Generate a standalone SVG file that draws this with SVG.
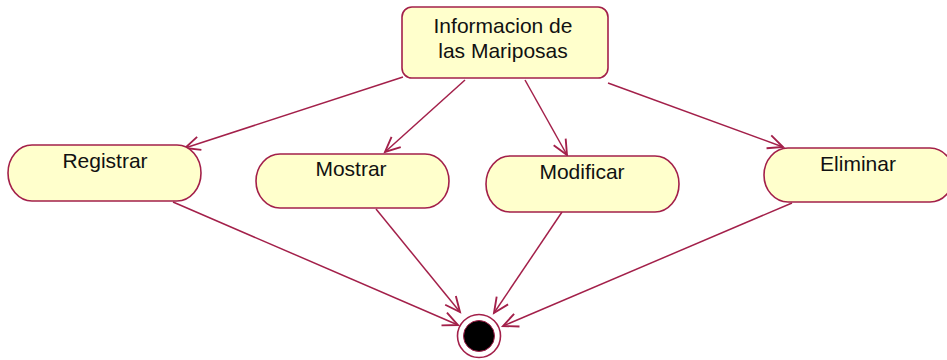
<svg xmlns="http://www.w3.org/2000/svg" width="947" height="360" viewBox="0 0 947 360">
<style>
.node{fill:#FFFFCC;stroke:#A3204A;stroke-width:1.6}
.lbl{font-family:"Liberation Sans",Arial,sans-serif;font-size:21px;fill:#111;text-anchor:middle}
.edge{fill:none;stroke:#A3204A;stroke-width:1.5}
</style>
<defs>
<marker id="arr" markerUnits="userSpaceOnUse" markerWidth="20" markerHeight="20" viewBox="-14 -8 16 16" refX="0" refY="0" orient="auto">
<path d="M-12,-5.5 L0,0 L-12,5.5" fill="none" stroke="#A3204A" stroke-width="1.5"/>
</marker>
</defs>
<rect width="947" height="360" fill="#fff"/>
<g id="connectors">
<line class="edge" x1="403" y1="77" x2="185" y2="148" marker-end="url(#arr)"/>
<line class="edge" x1="465" y1="80" x2="385" y2="152" marker-end="url(#arr)"/>
<line class="edge" x1="525" y1="80" x2="567" y2="155" marker-end="url(#arr)"/>
<line class="edge" x1="608" y1="83" x2="783" y2="147" marker-end="url(#arr)"/>
<line class="edge" x1="173" y1="202" x2="458" y2="325" marker-end="url(#arr)"/>
<line class="edge" x1="376" y1="209" x2="460" y2="312" marker-end="url(#arr)"/>
<line class="edge" x1="562" y1="212" x2="494" y2="313" marker-end="url(#arr)"/>
<line class="edge" x1="792" y1="203" x2="503" y2="326" marker-end="url(#arr)"/>
</g>
<g id="info">
<rect class="node" x="402" y="7" width="206" height="71" rx="10" ry="10"/>
<text class="lbl" x="503" y="33">Informacion de</text>
<text class="lbl" x="503" y="58">las Mariposas</text>
</g>
<g id="registrar">
<rect class="node" x="8" y="145" width="193" height="56" rx="24" ry="28"/>
<text class="lbl" x="105" y="168">Registrar</text>
</g>
<g id="mostrar">
<rect class="node" x="256" y="154" width="193" height="54" rx="24" ry="27"/>
<text class="lbl" x="351" y="176">Mostrar</text>
</g>
<g id="modificar">
<rect class="node" x="486" y="156" width="193" height="56" rx="24" ry="28"/>
<text class="lbl" x="582" y="179">Modificar</text>
</g>
<g id="eliminar">
<rect class="node" x="764" y="148" width="190" height="54" rx="24" ry="27"/>
<text class="lbl" x="858" y="171">Eliminar</text>
</g>
<g id="final">
<circle cx="479" cy="336" r="21.5" fill="#fff" stroke="#A3204A" stroke-width="1.6"/>
<circle cx="479" cy="336" r="15.5" fill="#000" stroke="#A3204A" stroke-width="1"/>
</g>
</svg>
